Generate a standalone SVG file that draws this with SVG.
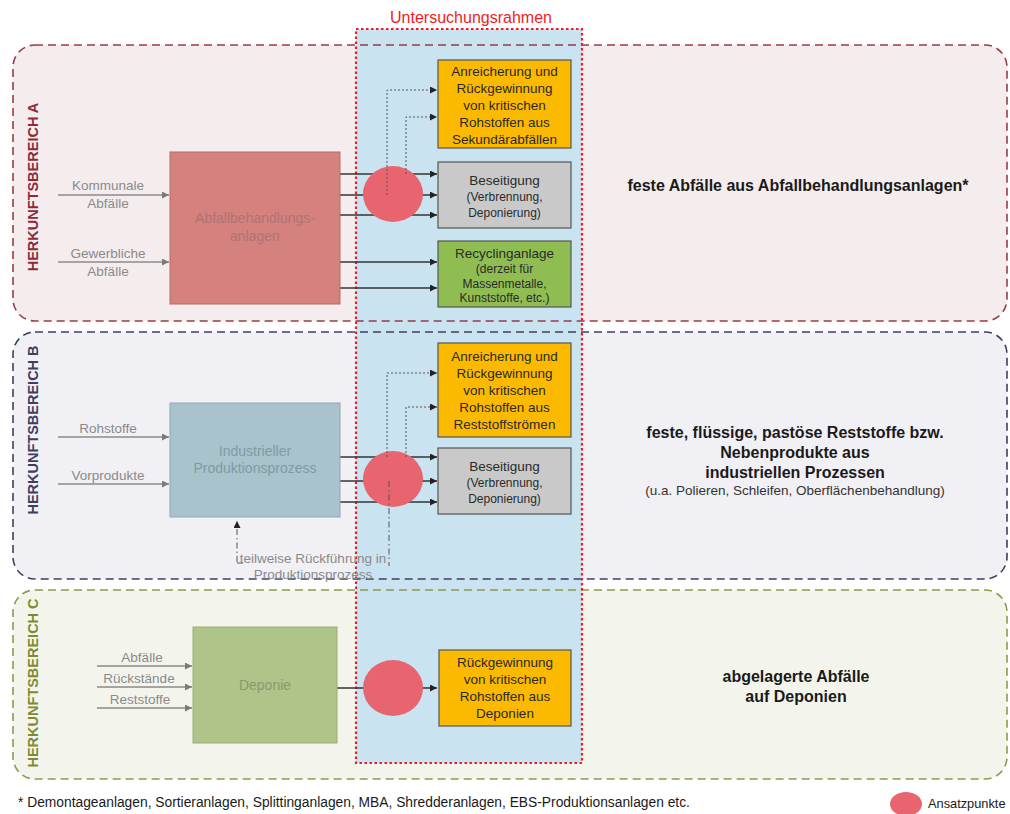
<svg xmlns="http://www.w3.org/2000/svg" width="1010" height="814" viewBox="0 0 1010 814">
<style>
text{font-family:"Liberation Sans",Arial,sans-serif}
.in{font-size:13.5px;fill:#8a8a8a;text-anchor:middle}
.bx{font-size:13.5px;fill:#2a2a2a;text-anchor:middle}
.bxs{font-size:12px;fill:#2a2a2a;text-anchor:middle}
.rt{font-size:16px;font-weight:bold;fill:#1a1a1a;text-anchor:middle}
.side{font-size:14.5px;font-weight:bold;text-anchor:middle}
.ghost{font-size:14px;text-anchor:middle}
.inl{stroke:#8a8a8a;stroke-width:1.3;fill:none;marker-end:url(#ag)}
.out{stroke:#333;stroke-width:1.3;fill:none;marker-end:url(#ab)}
.dsh{stroke:#555;stroke-width:1;stroke-dasharray:2 2;fill:none;marker-end:url(#ab)}
.dd{stroke:#555;stroke-width:1;stroke-dasharray:6 3 1.5 3;fill:none}
.circ{fill:#e8646e}
.or{fill:#fbb900;stroke:#555;stroke-width:1.2}
.gr{fill:#c9c9c9;stroke:#555;stroke-width:1.2}
.gn{fill:#8fbd52;stroke:#555;stroke-width:1.2}
</style>
<defs>
<marker id="ab" viewBox="0 0 10 10" refX="10" refY="5" markerWidth="9" markerHeight="7" orient="auto" markerUnits="userSpaceOnUse"><path d="M0,0 L10,5 L0,10 z" fill="#222"/></marker>
<marker id="ag" viewBox="0 0 10 10" refX="10" refY="5" markerWidth="9" markerHeight="7" orient="auto" markerUnits="userSpaceOnUse"><path d="M0,0 L10,5 L0,10 z" fill="#7a7a7a"/></marker>
</defs>
<rect width="1010" height="814" fill="#ffffff"/>

<!-- section backgrounds -->
<g id="bereich-a-bg"><rect x="13" y="45" width="994" height="276" rx="22" fill="#f5eded"/></g>
<g id="bereich-b-bg"><rect x="13" y="332" width="994" height="247" rx="22" fill="#f1f0f5"/></g>
<g id="bereich-c-bg"><rect x="13" y="590" width="994" height="189" rx="22" fill="#f3f5ec"/></g>

<!-- Untersuchungsrahmen column -->
<g id="untersuchungsrahmen-fill"><rect x="356" y="29" width="226" height="734" fill="#c9e3f1"/></g>

<!-- section borders -->
<g id="bereich-a">
<rect x="13" y="45" width="994" height="276" rx="22" fill="none" stroke="#9b3b48" stroke-width="1.6" stroke-dasharray="8 5"/>
<text class="side" fill="#8e2a38" transform="translate(38,187) rotate(-90)">HERKUNFTSBEREICH A</text>
<text class="rt" x="798" y="191">feste Abfälle aus Abfallbehandlungsanlagen*</text>
</g>
<g id="bereich-b">
<rect x="13" y="332" width="994" height="247" rx="22" fill="none" stroke="#3c4060" stroke-width="1.6" stroke-dasharray="8 5"/>
<text class="side" fill="#3c4060" transform="translate(38,430) rotate(-90)">HERKUNFTSBEREICH B</text>
<text class="rt" x="795" y="438">feste, flüssige, pastöse Reststoffe bzw.</text>
<text class="rt" x="795" y="458">Nebenprodukte aus</text>
<text class="rt" x="795" y="478">industriellen Prozessen</text>
<text x="795" y="495" style="font-size:13.5px;fill:#333;text-anchor:middle">(u.a. Polieren, Schleifen, Oberflächenbehandlung)</text>
</g>
<g id="bereich-c">
<rect x="13" y="590" width="994" height="189" rx="22" fill="none" stroke="#8c9c48" stroke-width="1.6" stroke-dasharray="8 5"/>
<text class="side" fill="#7d8c34" transform="translate(38,683) rotate(-90)">HERKUNFTSBEREICH C</text>
<text class="rt" x="796" y="682">abgelagerte Abfälle</text>
<text class="rt" x="796" y="702">auf Deponien</text>
</g>

<g id="rahmen">
<rect x="356" y="29" width="226" height="734" fill="none" stroke="#ee1c25" stroke-width="2.2" stroke-dasharray="2.5 2.5"/>
<text x="471" y="23" style="font-size:16px;fill:#ee1c25;text-anchor:middle">Untersuchungsrahmen</text>
</g>

<!-- connectors -->
<g id="connectors">
<path class="inl" d="M58,195 H169"/>
<path class="inl" d="M58,262 H169"/>
<path class="out" d="M340,174 H437"/>
<path class="out" d="M340,195 H437"/>
<path class="out" d="M340,215 H437"/>
<path class="out" d="M340,262 H437"/>
<path class="out" d="M340,288 H437"/>
<path class="inl" d="M58,437 H169"/>
<path class="inl" d="M58,484 H169"/>
<path class="out" d="M340,457 H437"/>
<path class="out" d="M340,481 H437"/>
<path class="out" d="M340,502 H437"/>
<path class="inl" d="M97,666 H192"/>
<path class="inl" d="M97,687 H192"/>
<path class="inl" d="M97,708 H192"/>
<path class="out" d="M337,688 H437"/>
</g>

<!-- circles (Ansatzpunkte) -->
<g id="ansatzpunkt-a"><ellipse class="circ" cx="393" cy="194" rx="30" ry="28"/></g>
<g id="ansatzpunkt-b"><ellipse class="circ" cx="393" cy="479" rx="30" ry="28"/></g>
<g id="ansatzpunkt-c"><ellipse class="circ" cx="393" cy="688" rx="30" ry="28"/></g>

<g id="connectors-dashed">
<path class="dsh" d="M387,195 V90 H437"/>
<path class="dsh" d="M406,174 V117 H437"/>
<path class="dsh" d="M387,457 V373 H437"/>
<path class="dsh" d="M406,457 V407 H437"/>
<path class="dd" d="M389,481 V566"/>
<path class="dd" d="M237,562 V521" style="marker-end:url(#ab)"/>
<path class="dd" d="M237,563 H245"/>
</g>

<!-- Bereich A nodes -->
<g id="abfallbehandlungsanlagen">
<rect x="170" y="152" width="170" height="152" fill="#d5827f" stroke="#b56c6a" stroke-width="1"/>
<text class="ghost" x="255" y="223" fill="#b07372">Abfallbehandlungs-</text>
<text class="ghost" x="255" y="241" fill="#b07372">anlagen</text>
</g>
<g id="lbl-kommunale"><text class="in" x="108" y="190">Kommunale</text><text class="in" x="108" y="208">Abfälle</text></g>
<g id="lbl-gewerbliche"><text class="in" x="108" y="258">Gewerbliche</text><text class="in" x="108" y="276">Abfälle</text></g>
<g id="anreicherung-a">
<rect class="or" x="438" y="60" width="133" height="88"/>
<text class="bx" x="504.5" y="76">Anreicherung und</text>
<text class="bx" x="504.5" y="93">Rückgewinnung</text>
<text class="bx" x="504.5" y="110">von kritischen</text>
<text class="bx" x="504.5" y="127">Rohstoffen aus</text>
<text class="bx" x="504.5" y="144">Sekundärabfällen</text>
</g>
<g id="beseitigung-a">
<rect class="gr" x="438" y="162" width="133" height="66"/>
<text class="bx" x="504.5" y="185">Beseitigung</text>
<text class="bxs" x="504.5" y="201">(Verbrennung,</text>
<text class="bxs" x="504.5" y="217">Deponierung)</text>
</g>
<g id="recyclinganlage">
<rect class="gn" x="438" y="241" width="133" height="66"/>
<text class="bx" x="504.5" y="258">Recyclinganlage</text>
<text class="bxs" x="504.5" y="273">(derzeit für</text>
<text class="bxs" x="504.5" y="288">Massenmetalle,</text>
<text class="bxs" x="504.5" y="302">Kunststoffe, etc.)</text>
</g>

<!-- Bereich B nodes -->
<g id="produktionsprozess">
<rect x="170" y="403" width="170" height="114" fill="#a9c3cc" stroke="#8fa7b0" stroke-width="1"/>
<text class="ghost" x="255" y="456" fill="#7f9aa4">Industrieller</text>
<text class="ghost" x="255" y="473" fill="#7f9aa4">Produktionsprozess</text>
</g>
<g id="lbl-rohstoffe"><text class="in" x="108" y="433">Rohstoffe</text></g>
<g id="lbl-vorprodukte"><text class="in" x="108" y="480">Vorprodukte</text></g>
<g id="lbl-rueckfuehrung">
<text class="in" x="313" y="563">teilweise Rückführung in</text>
<text class="in" x="313" y="579">Produktionsprozess</text>
</g>
<g id="anreicherung-b">
<rect class="or" x="438" y="343" width="133" height="94"/>
<text class="bx" x="504.5" y="361">Anreicherung und</text>
<text class="bx" x="504.5" y="378">Rückgewinnung</text>
<text class="bx" x="504.5" y="395">von kritischen</text>
<text class="bx" x="504.5" y="412">Rohstoffen aus</text>
<text class="bx" x="504.5" y="429">Reststoffströmen</text>
</g>
<g id="beseitigung-b">
<rect class="gr" x="438" y="448" width="133" height="66"/>
<text class="bx" x="504.5" y="471">Beseitigung</text>
<text class="bxs" x="504.5" y="487">(Verbrennung,</text>
<text class="bxs" x="504.5" y="503">Deponierung)</text>
</g>

<!-- Bereich C nodes -->
<g id="deponie">
<rect x="193" y="627" width="144" height="116" fill="#afc489" stroke="#98ad72" stroke-width="1"/>
<text class="ghost" x="265" y="690" fill="#8a9a6a">Deponie</text>
</g>
<g id="lbl-abfaelle"><text class="in" x="142" y="662">Abfälle</text></g>
<g id="lbl-rueckstaende"><text class="in" x="139" y="683">Rückstände</text></g>
<g id="lbl-reststoffe"><text class="in" x="140" y="704">Reststoffe</text></g>
<g id="rueckgewinnung-c">
<rect class="or" x="439" y="650" width="132" height="76"/>
<text class="bx" x="505" y="667">Rückgewinnung</text>
<text class="bx" x="505" y="684">von kritischen</text>
<text class="bx" x="505" y="701">Rohstoffen aus</text>
<text class="bx" x="505" y="718">Deponien</text>
</g>

<!-- footer -->
<g id="footer">
<text x="18" y="807" style="font-size:13.8px;fill:#1a1a1a">* Demontageanlagen, Sortieranlagen, Splittinganlagen, MBA, Shredderanlagen, EBS-Produktionsanlagen etc.</text>
</g>
<g id="legende">
<ellipse class="circ" cx="906" cy="804" rx="16" ry="12"/>
<text x="928" y="808" style="font-size:12.8px;fill:#1a1a1a">Ansatzpunkte</text>
</g>
</svg>
